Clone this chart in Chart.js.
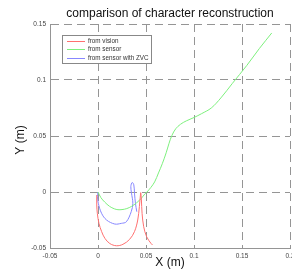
<!DOCTYPE html>
<html><head><meta charset="utf-8">
<script src="https://cdn.jsdelivr.net/npm/chart.js@4.4.1/dist/chart.umd.min.js"></script>
<style>html,body{margin:0;padding:0;background:#fff}#wrap{width:292px;height:271px;position:relative}</style>
</head><body><div id="wrap"><canvas id="c"></canvas></div>
<script>
const titleText = "comparison of character reconstruction";
const xLabel = "X (m)";
const yLabel = "Y (m)";
const seriesNames = ["from vision", "from sensor", "from sensor with ZVC"];
const xTicks = [-0.05, 0, 0.05, 0.1, 0.15, 0.2];
const yTicks = [-0.05, 0, 0.05, 0.1, 0.15];

const visionX = [-0.0013,-0.0013,-0.0007,0.001,0.0038,0.0072,0.0123,0.0192,0.026,0.0329,0.038,0.0414,0.0431,0.0442,0.0445,0.0452,0.0459,0.0476,0.0507,0.0552,0.0568];
const visionY = [-0.0027,-0.0116,-0.019,-0.028,-0.0354,-0.0414,-0.046,-0.048,-0.0467,-0.0423,-0.0354,-0.025,-0.013,-0.0027,-0.0006,-0.0071,-0.019,-0.031,-0.040,-0.0459,-0.0473];

const sensorX = [0,0.003,0.007,0.012,0.017,0.0208,0.025,0.03,0.035,0.04,0.045,0.049,0.051,0.055,0.059,0.063,0.067,0.071,0.074,0.077,0.081,0.086,0.092,0.1,0.108,0.118,0.128,0.14,0.155,0.168,0.181];
const sensorY = [0,-0.005,-0.009,-0.0128,-0.015,-0.0158,-0.0157,-0.0148,-0.0128,-0.0098,-0.0058,-0.0015,0,0.004,0.009,0.017,0.0253,0.035,0.0435,0.0505,0.0565,0.0605,0.0635,0.0665,0.070,0.075,0.084,0.097,0.113,0.128,0.142];

const zvcX = [0,-0.0005,0.0003,0.0037,0.0089,0.0175,0.0243,0.0295,0.0346,0.0363,0.0349,0.0342,0.0356,0.0373,0.038,0.039,0.0404];
const zvcY = [0,-0.004,-0.010,-0.019,-0.025,-0.0286,-0.028,-0.0266,-0.0176,-0.0101,-0.001,0.0049,0.0085,0.0064,-0.001,-0.0101,-0.0176];

const colors = ["#ff7070", "#7df07d", "#8787ff"];
const pts = (xs, ys) => xs.map((x, i) => ({x, y: ys[i]}));
const series = [pts(visionX, visionY), pts(sensorX, sensorY), pts(zvcX, zvcY)];

const FONT = '"Liberation Sans", Arial, sans-serif';

const textPlugin = {
  id: 'texts',
  afterDraw(chart) {
    const {ctx, chartArea: a} = chart;
    const cx = (a.left + a.right) / 2;
    ctx.save();
    ctx.fillStyle = '#111';
    ctx.textAlign = 'center';
    ctx.textBaseline = 'middle';
    ctx.font = '12px ' + FONT;
    ctx.fillText(titleText, cx, 14);
    ctx.fillText(xLabel, cx, 263);
    ctx.translate(21, 140);
    ctx.rotate(-Math.PI / 2);
    ctx.fillText(yLabel, 0, 0);
    ctx.restore();
    // legend
    ctx.save();
    const lx = 62, ly = 35, lw = 89, lh = 28;
    ctx.fillStyle = '#fff';
    ctx.fillRect(lx, ly, lw, lh);
    ctx.strokeStyle = '#888';
    ctx.lineWidth = 1;
    ctx.strokeRect(lx + 0.5, ly + 0.5, lw, lh);
    ctx.font = '6.3px ' + FONT;
    ctx.textAlign = 'left';
    ctx.textBaseline = 'middle';
    const rows = [41.5, 49.5, 58.5];
    seriesNames.forEach((name, i) => {
      const y = rows[i];
      ctx.setLineDash([]);
      ctx.strokeStyle = colors[i];
      ctx.lineWidth = 1;
      ctx.beginPath();
      ctx.moveTo(67, y); ctx.lineTo(85, y);
      ctx.stroke();
      ctx.fillStyle = '#333';
      ctx.fillText(name, 88, y);
    });
    ctx.restore();
  }
};

const fmt = v => String(Math.round(v * 100) / 100);

new Chart(document.getElementById('c'), {
  type: 'scatter',
  data: {
    datasets: series.map((s, i) => ({
      label: seriesNames[i], data: s, showLine: true, borderColor: colors[i],
      backgroundColor: colors[i], borderWidth: 1, pointRadius: 0, tension: 0.35, fill: false
    }))
  },
  options: {
    responsive: true, maintainAspectRatio: false, animation: false,
    layout: {padding: {top: 24, right: 2, left: 0, bottom: 0}},
    plugins: {legend: {display: false}, title: {display: false}, tooltip: {enabled: false}},
    scales: {
      x: {
        type: 'linear', min: -0.05, max: 0.2,
        afterBuildTicks: s => { s.ticks = xTicks.map(v => ({value: v})); },
        afterFit: s => { s.height = 23; s.paddingLeft = 0; s.paddingRight = 0; },
        ticks: {callback: fmt, font: {size: 6.5, family: FONT}, color: '#444', padding: 4, maxRotation: 0, autoSkip: false},
        grid: {color: '#959595', lineWidth: 1, drawTicks: false},
        border: {display: true, color: '#959595', width: 1, dash: [8, 5]}
      },
      y: {
        type: 'linear', min: -0.05, max: 0.15,
        afterBuildTicks: s => { s.ticks = yTicks.map(v => ({value: v})); },
        afterFit: s => { s.width = 50; s.paddingTop = 0; s.paddingBottom = 0; },
        ticks: {callback: fmt, font: {size: 6.5, family: FONT}, color: '#444', padding: 4, autoSkip: false},
        grid: {color: '#959595', lineWidth: 1, drawTicks: false},
        border: {display: true, color: '#959595', width: 1, dash: [8, 5]}
      }
    }
  },
  plugins: [textPlugin]
});
</script></body></html>
